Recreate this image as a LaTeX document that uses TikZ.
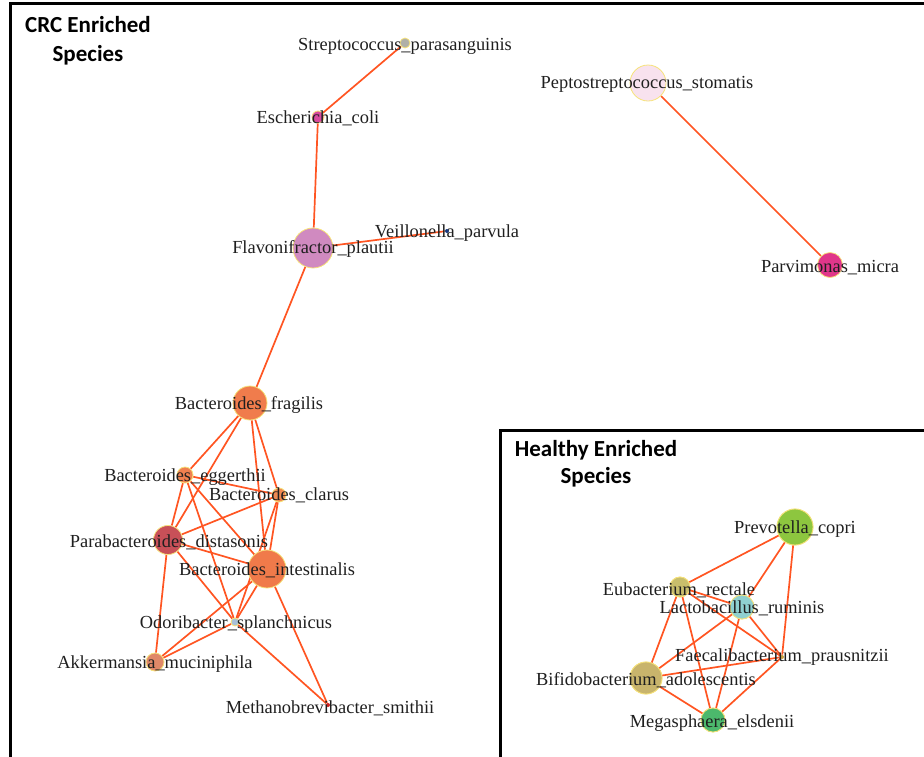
\documentclass[tikz,border=0pt]{standalone}
\usepackage{fontspec}
\setmainfont{Liberation Serif}
\newfontfamily\titlefont{Carlito}
\usetikzlibrary{backgrounds}
\definecolor{edgecol}{HTML}{FF5522}
\definecolor{nodeborder}{HTML}{F6E27A}
\definecolor{cStrep}{HTML}{B0B0A8}
\definecolor{cEsch}{HTML}{D84A9E}
\definecolor{cFlav}{HTML}{D08AC0}
\definecolor{cVeil}{HTML}{1A3A80}
\definecolor{cPepto}{HTML}{F8E2EE}
\definecolor{cParv}{HTML}{E0368A}
\definecolor{cFrag}{HTML}{F07C4C}
\definecolor{cEgg}{HTML}{F08050}
\definecolor{cClar}{HTML}{F08A52}
\definecolor{cDist}{HTML}{C85058}
\definecolor{cInt}{HTML}{F07A4A}
\definecolor{cOdor}{HTML}{A8C0D8}
\definecolor{cAkk}{HTML}{E08868}
\definecolor{cMeth}{HTML}{D02020}
\definecolor{cPrev}{HTML}{8DC63F}
\definecolor{cEub}{HTML}{C8BE6C}
\definecolor{cLact}{HTML}{8FD0D0}
\definecolor{cFaec}{HTML}{C8A040}
\definecolor{cBifi}{HTML}{C8B46C}
\definecolor{cMega}{HTML}{4CB86C}
\begin{document}
\begin{tikzpicture}[x=1pt,y=-1pt,
  sp/.style={circle,draw=nodeborder,line width=0.8pt,inner sep=0pt,fill=#1},
  lbl/.style={anchor=base,inner sep=0pt,font=\fontsize{18.4}{20}\selectfont,text=black!88},
  edge/.style={draw=edgecol,line width=1.7pt},
  ttl/.style={anchor=base,inner sep=0pt,font=\titlefont\bfseries\fontsize{23}{28}\selectfont},
  frame/.style={draw=black,line width=3pt}]
\useasboundingbox (0,0) rectangle (924,756);

% outer frame
\draw[frame] (930,3) -- (10,3) -- (10,760);

% CRC species nodes
\node[sp=cStrep,minimum size=10pt] (strep) at (405,43) {};
\node[sp=cEsch,minimum size=12pt] (esch) at (318,117) {};
\node[sp=cFlav,minimum size=40pt] (flav) at (313,248) {};
\node[sp=cVeil,minimum size=4pt,draw=none] (veil) at (447,231) {};
\node[sp=cPepto,minimum size=36pt] (pepto) at (648,83) {};
\node[sp=cParv,minimum size=25pt] (parv) at (830,265) {};
\node[sp=cFrag,minimum size=34pt] (frag) at (250,403) {};
\node[sp=cEgg,minimum size=16pt] (egg) at (185,475) {};
\node[sp=cClar,minimum size=14pt] (clar) at (279,495) {};
\node[sp=cDist,minimum size=29pt] (dist) at (168,540) {};
\node[sp=cInt,minimum size=38pt] (int) at (267,569) {};
\node[sp=cOdor,minimum size=8pt] (odor) at (235,622) {};
\node[sp=cAkk,minimum size=18pt] (akk) at (155,662) {};
\node[sp=cMeth,minimum size=4pt,draw=none] (meth) at (328,705) {};

% Healthy box
\begin{scope}[on background layer]
\draw[edge] (strep) -- (esch);
\draw[edge] (esch) -- (flav);
\draw[edge] (flav) -- (veil);
\draw[edge] (flav) -- (frag);
\draw[edge] (pepto) -- (parv);
\draw[edge] (frag) -- (egg);
\draw[edge] (frag) -- (dist);
\draw[edge] (frag) -- (int);
\draw[edge] (frag) -- (clar);
\draw[edge] (egg) -- (clar);
\draw[edge] (egg) -- (dist);
\draw[edge] (egg) -- (int);
\draw[edge] (egg) -- (odor);
\draw[edge] (clar) -- (dist);
\draw[edge] (clar) -- (int);
\draw[edge] (clar) -- (odor);
\draw[edge] (dist) -- (int);
\draw[edge] (dist) -- (akk);
\draw[edge] (dist) -- (odor);
\draw[edge] (odor) -- (meth);
\draw[edge] (int) -- (odor);
\draw[edge] (int) -- (akk);
\draw[edge] (int) -- (meth);
\draw[edge] (odor) -- (akk);
\end{scope}

\fill[white] (500,430) rectangle (930,760);
\draw[frame] (930,430) -- (500,430) -- (500,760);

% Healthy species nodes
\node[sp=cPrev,minimum size=36pt] (prev) at (795,527) {};
\node[sp=cEub,minimum size=20pt] (eub) at (680,587) {};
\node[sp=cLact,minimum size=24pt] (lact) at (742,607) {};
\node[sp=cFaec,minimum size=4pt,draw=none] (faec) at (782,657) {};
\node[sp=cBifi,minimum size=32pt] (bifi) at (646,678) {};
\node[sp=cMega,minimum size=24pt] (mega) at (713,720) {};

\draw[edge] (prev) -- (eub);
\draw[edge] (prev) -- (lact);
\draw[edge] (prev) -- (faec);
\draw[edge] (eub) -- (lact);
\draw[edge] (eub) -- (faec);
\draw[edge] (eub) -- (bifi);
\draw[edge] (eub) -- (mega);
\draw[edge] (lact) -- (faec);
\draw[edge] (lact) -- (bifi);
\draw[edge] (lact) -- (mega);
\draw[edge] (bifi) -- (faec);
\draw[edge] (bifi) -- (mega);
\draw[edge] (mega) -- (faec);
% redraw healthy nodes above edges
\node[sp=cPrev,minimum size=36pt] (prev2) at (prev) {};
\node[sp=cEub,minimum size=20pt] (eub2) at (eub) {};
\node[sp=cLact,minimum size=24pt] (lact2) at (lact) {};
\node[sp=cBifi,minimum size=32pt] (bifi2) at (bifi) {};
\node[sp=cMega,minimum size=24pt] (mega2) at (mega) {};

% titles
\node[ttl] (t1a) at (88,32) {CRC Enriched};
\node[ttl] (t1b) at (88,61) {Species};
\node[ttl] (t2a) at (596,456) {Healthy Enriched};
\node[ttl] (t2b) at (596,483) {Species};

% labels
\node[lbl] (strepL) at (405,50) {Streptococcus\_parasanguinis};
\node[lbl] (eschL) at (318,123) {Escherichia\_coli};
\node[lbl] (flavL) at (313,253) {Flavonifractor\_plautii};
\node[lbl] (veilL) at (447,237) {Veillonella\_parvula};
\node[lbl] (peptoL) at (647,88) {Peptostreptococcus\_stomatis};
\node[lbl] (parvL) at (830,272) {Parvimonas\_micra};
\node[lbl] (fragL) at (249,409) {Bacteroides\_fragilis};
\node[lbl] (eggL) at (185,481) {Bacteroides\_eggerthii};
\node[lbl] (clarL) at (279,500) {Bacteroides\_clarus};
\node[lbl] (distL) at (169,547) {Parabacteroides\_distasonis};
\node[lbl] (intL) at (267,575) {Bacteroides\_intestinalis};
\node[lbl] (odorL) at (236,628) {Odoribacter\_splanchnicus};
\node[lbl] (akkL) at (155,668) {Akkermansia\_muciniphila};
\node[lbl] (methL) at (330,713) {Methanobrevibacter\_smithii};
\node[lbl] (prevL) at (795,533) {Prevotella\_copri};
\node[lbl] (eubL) at (679,595) {Eubacterium\_rectale};
\node[lbl] (lactL) at (742,613) {Lactobacillus\_ruminis};
\node[lbl] (faecL) at (782,661) {Faecalibacterium\_prausnitzii};
\node[lbl] (bifiL) at (646,685) {Bifidobacterium\_adolescentis};
\node[lbl] (megaL) at (712,727) {Megasphaera\_elsdenii};
\end{tikzpicture}
\end{document}
